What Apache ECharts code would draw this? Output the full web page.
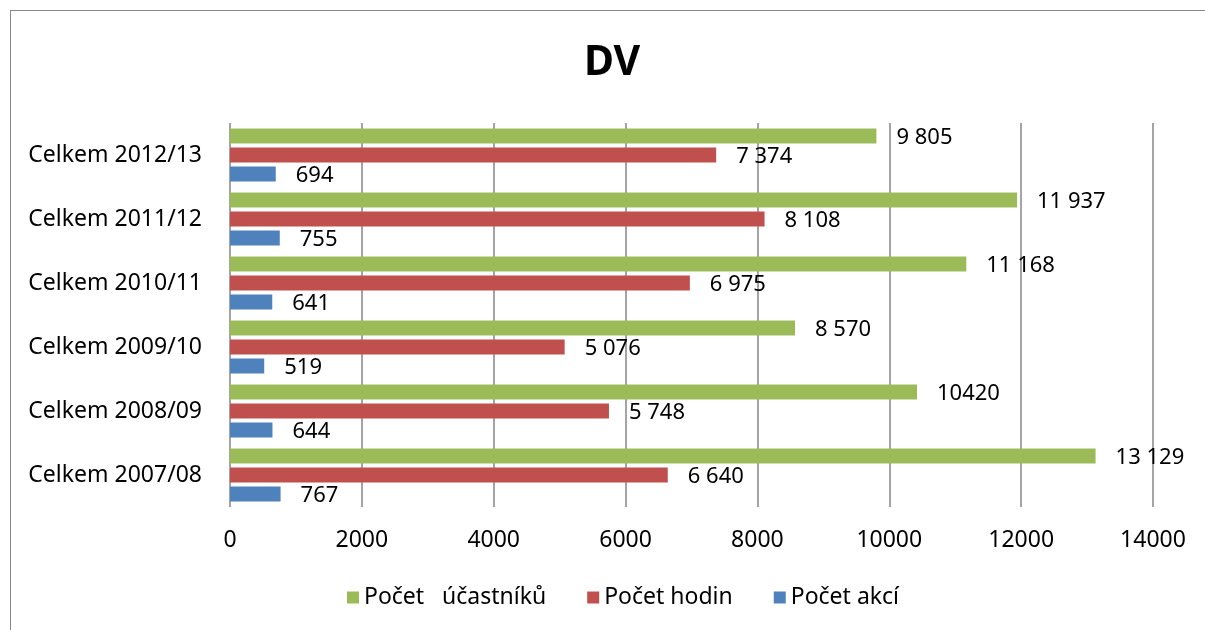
<!DOCTYPE html>
<html>
<head>
<meta charset="utf-8">
<script src="https://cdn.jsdelivr.net/npm/echarts@6/dist/echarts.min.js"></script>
<style>
  html, body { margin: 0; padding: 0; background: #fff; }
  #chart { position: absolute; left: 0; top: 0; width: 1205px; height: 630px; }
  #frame { position: absolute; left: 10px; top: 10px; width: 1195px; height: 620px;
           border-top: 1px solid #888; border-left: 1px solid #888; box-sizing: border-box; }
</style>
</head>
<body>
<div id="frame"></div>
<div id="chart"></div>
<script>
// kategorie odspodu nahoru
const categories = ['Celkem 2007/08', 'Celkem 2008/09', 'Celkem 2009/10', 'Celkem 2010/11', 'Celkem 2011/12', 'Celkem 2012/13'];
const pocetAkci = [767, 644, 519, 641, 755, 694];
const pocetHodin = [6640, 5748, 5076, 6975, 8108, 7374];
const pocetUcastniku = [13129, 10420, 8570, 11168, 11937, 9805];
// popisky tak, jak jsou v grafu (mezery jako oddělovač tisíců)
const labelsAkci = ['767', '644', '519', '641', '755', '694'];
const labelsHodin = ['6 640', '5 748', '5 076', '6 975', '8 108', '7 374'];
const labelsUcastniku = ['13 129', '10420', '8 570', '11 168', '11 937', '9 805'];
const xTicks = [0, 2000, 4000, 6000, 8000, 10000, 12000, 14000];

const FONT = 'Noto Sans';

function barSeries(name, values, labels, color) {
  return {
    type: 'bar',
    name: name,
    data: values,
    barWidth: 15,
    barGap: '27%',
    barCategoryGap: 11,
    itemStyle: { color: color },
    label: {
      show: true,
      position: 'right',
      distance: 20,
      offset: [0, 2],
      color: '#000',
      fontFamily: FONT,
      fontSize: 22,
      formatter: (p) => labels[p.dataIndex],
    },
  };
}

const chart = echarts.init(document.getElementById('chart'), null, { renderer: 'canvas' });
chart.setOption({
  backgroundColor: 'transparent',
  animation: false,
  title: {
    text: 'DV',
    left: 579,
    top: 38,
    textStyle: { fontFamily: FONT, fontSize: 41, fontWeight: 'bold', color: '#000' },
  },
  legend: {
    bottom: 16,
    left: 342,
    icon: 'rect',
    itemWidth: 12,
    itemHeight: 12,
    itemGap: 41,
    data: ['Počet   účastníků', 'Počet hodin', 'Počet akcí'],
    textStyle: { fontFamily: FONT, fontSize: 23, color: '#000' },
  },
  grid: { left: 230, right: 52, top: 123, bottom: 123 },
  xAxis: {
    type: 'value',
    min: xTicks[0],
    max: xTicks[xTicks.length - 1],
    interval: 2000,
    axisLine: { show: false },
    axisTick: { show: false },
    axisLabel: { color: '#000', fontFamily: FONT, fontSize: 23, margin: 22, formatter: (v) => String(v) },
    splitLine: { lineStyle: { color: '#868686', width: 1.5 } },
  },
  yAxis: {
    type: 'category',
    data: categories,
    axisLine: { show: false },
    axisTick: { show: false },
    axisLabel: { color: '#000', fontFamily: FONT, fontSize: 23, margin: 28 },
  },
  series: [
    barSeries('Počet   účastníků', pocetUcastniku, labelsUcastniku, '#9BBB59'),
    barSeries('Počet hodin', pocetHodin, labelsHodin, '#C0504D'),
    barSeries('Počet akcí', pocetAkci, labelsAkci, '#4F81BD'),
  ],
});
</script>
</body>
</html>
